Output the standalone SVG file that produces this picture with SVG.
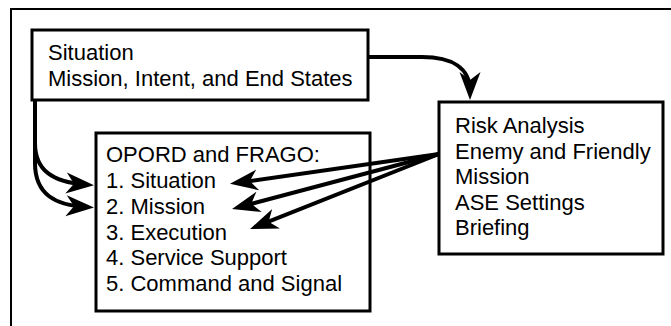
<svg xmlns="http://www.w3.org/2000/svg" width="671" height="326" viewBox="0 0 671 326">
  <style>
    .frame { fill: none; stroke: #000; stroke-width: 2; }
    .box { fill: #fff; stroke: #000; stroke-width: 3; }
    .label { font-family: "Liberation Sans", Arial, Helvetica, sans-serif; font-size: 22px; fill: #000; }
    .conn { fill: none; stroke: #000; stroke-width: 4; marker-end: url(#head); }
  </style>
  <defs>
    <marker id="head" markerUnits="userSpaceOnUse" viewBox="-30 -13 32 26" refX="-9" refY="0" markerWidth="32" markerHeight="26" orient="auto">
      <path d="M0,0 L-28,-10.5 L-20,0 L-28,10.5 Z" fill="#000"/>
    </marker>
  </defs>

  <rect width="671" height="326" fill="#fff"/>
  <!-- outer frame, open to the right and bottom -->
  <rect class="frame" x="11" y="9" width="700" height="400"/>

  <g id="situation">
    <rect class="box" x="32" y="30" width="336" height="70"/>
    <text class="label" x="48" y="60">Situation</text>
    <text class="label" x="48" y="86">Mission, Intent, and End States</text>
  </g>

  <g id="opord">
    <rect class="box" x="96" y="133" width="274" height="178"/>
    <text class="label" x="106" y="162">OPORD and FRAGO:</text>
    <text class="label" x="106" y="188">1. Situation</text>
    <text class="label" x="106" y="214">2. Mission</text>
    <text class="label" x="106" y="240">3. Execution</text>
    <text class="label" x="106" y="265">4. Service Support</text>
    <text class="label" x="106" y="291">5. Command and Signal</text>
  </g>

  <g id="risk">
    <rect class="box" x="439" y="102" width="224" height="152"/>
    <text class="label" x="455" y="133">Risk Analysis</text>
    <text class="label" x="455" y="159">Enemy and Friendly</text>
    <text class="label" x="455" y="184">Mission</text>
    <text class="label" x="455" y="210">ASE Settings</text>
    <text class="label" x="455" y="235">Briefing</text>
  </g>

  <g id="connectors">
    <path class="conn" d="M368,57 L422,57 C452,57 470,68 470,91"/>
    <path class="conn" d="M35,100 L35,143 C35,170 52,182 85,184.5"/>
    <path class="conn" d="M35,100 L35,163 C35,195 56,205 85,207"/>
    <path class="conn" d="M439,154 L238.9,182.6"/>
    <path class="conn" d="M439,154 L240.7,206.7"/>
    <path class="conn" d="M439,154 L258.4,225.7"/>
  </g>
</svg>
